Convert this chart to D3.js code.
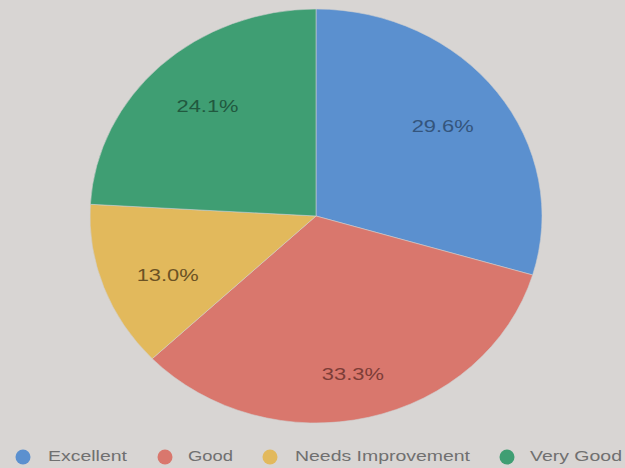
<!DOCTYPE html>
<html><head><meta charset="utf-8">
<script src="https://cdn.jsdelivr.net/npm/d3@7"></script>
<style>html,body{margin:0;padding:0;background:#d8d5d3;}svg{display:block;}</style>
</head><body>
<svg id="c" width="625" height="468"></svg>
<script>
const categories = ["Excellent", "Good", "Needs Improvement", "Very Good"];
const values = [29.6, 33.3, 13.0, 24.1];
const colors = ["#5b90cf", "#d9776d", "#e2b95c", "#3f9e73"];
const labelColors = ["#34557d", "#7d3d37", "#6b5224", "#21593f"];

const W = 625, H = 468;
const cx = 316, cy = 216, rx = 226, ry = 207;
const svg = d3.select("#c");

svg.append("rect").attr("width", W).attr("height", H).attr("fill", "#d8d5d3");

const data = categories.map((c, i) => ({cat: c, v: values[i], color: colors[i], lc: labelColors[i]}));
const pie = d3.pie().value(d => d.v).sort(null);
const arcs = pie(data);
const arc = d3.arc().innerRadius(0).outerRadius(rx);
const labelR = 158;
const labelArc = d3.arc().innerRadius(labelR).outerRadius(labelR);

const g = svg.append("g").attr("transform", `translate(${cx},${cy}) scale(1,${ry / rx})`);
g.selectAll("path").data(arcs).join("path")
  .attr("d", arc).attr("fill", d => d.data.color)
  .attr("stroke", "#cfcfcf").attr("stroke-width", 0.6);

const total = d3.sum(values);
svg.append("g").attr("transform", `translate(${cx},${cy + 5})`)
  .selectAll("text").data(arcs).join("text")
  .attr("x", d => labelArc.centroid(d)[0])
  .attr("y", d => labelArc.centroid(d)[1])
  .attr("text-anchor", "middle").attr("dy", "0.36em")
  .attr("font-family", "Liberation Sans, Arial, sans-serif")
  .attr("font-size", 16)
  .attr("textLength", 62).attr("lengthAdjust", "spacingAndGlyphs")
  .attr("fill", d => d.data.lc)
  .text(d => (d.data.v / total * 100).toFixed(1) + "%");

// legend
const legendDotX = [23, 165, 270, 507];
const legendTextX = [48, 188, 295, 530];
const legendTextW = [79, 45, 175, 92];
const ly = 456;
const lg = svg.append("g");
data.forEach((d, i) => {
  lg.append("circle").attr("cx", legendDotX[i]).attr("cy", ly + 1).attr("r", 7.5).attr("fill", d.color);
  lg.append("text").attr("x", legendTextX[i]).attr("y", ly).attr("dy", "0.36em")
    .attr("font-family", "Liberation Sans, Arial, sans-serif").attr("font-size", 15)
    .attr("fill", "#707070")
    .attr("textLength", legendTextW[i]).attr("lengthAdjust", "spacingAndGlyphs")
    .text(d.cat);
});
</script>
</body></html>
